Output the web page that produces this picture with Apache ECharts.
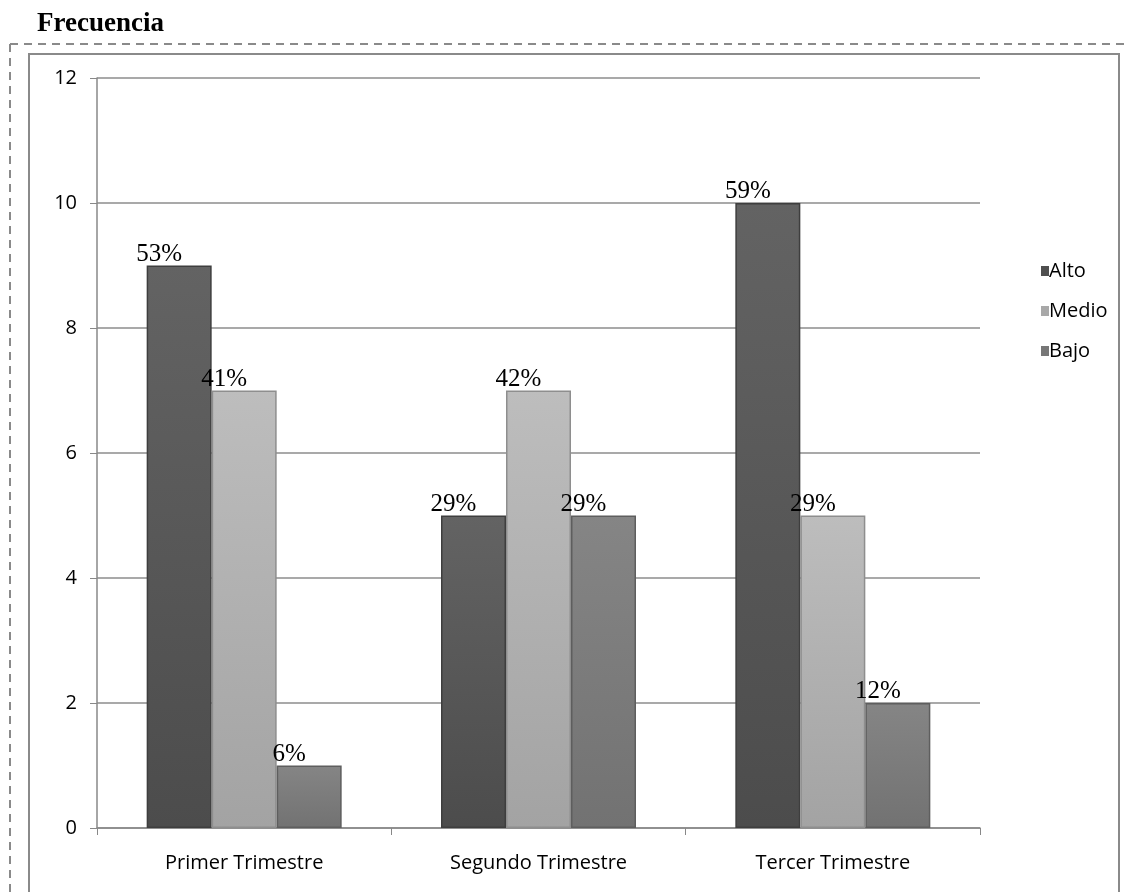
<!DOCTYPE html>
<html>
<head>
<meta charset="utf-8">
<script src="https://cdn.jsdelivr.net/npm/echarts@6/dist/echarts.min.js"></script>
<style>html,body{margin:0;padding:0;background:#fff;}#c{width:1125px;height:892px;}</style>
</head>
<body>
<div id="c"></div>
<script>
var categories = ['Primer Trimestre', 'Segundo Trimestre', 'Tercer Trimestre'];
var seriesNames = ['Alto', 'Medio', 'Bajo'];
var alto = [9, 5, 10];
var medio = [7, 7, 5];
var bajo = [1, 5, 2];
var altoPct = ['53%', '29%', '59%'];
var medioPct = ['41%', '42%', '29%'];
var bajoPct = ['6%', '29%', '12%'];
var yTicks = [0, 2, 4, 6, 8, 10, 12];

var chart = echarts.init(document.getElementById('c'));
function grad(top, bottom) {
  return new echarts.graphic.LinearGradient(0, 0, 0, 1, [
    {offset: 0, color: top}, {offset: 1, color: bottom}
  ]);
}
function mk(name, data, pcts, top, bottom, border) {
  return {
    name: name, type: 'bar', data: data, barWidth: 65, barGap: '0%',
    itemStyle: {color: grad(top, bottom), borderColor: border, borderWidth: 1.5},
    label: {
      show: true, position: 'top', distance: 0, offset: [-20, 1],
      formatter: function (p) { return pcts[p.dataIndex]; },
      fontFamily: 'Liberation Serif', fontSize: 25, color: '#000'
    }
  };
}
var sansFont = 'Open Sans';
chart.setOption({
  animation: false,
  title: {
    text: 'Frecuencia', left: 32, top: 6,
    textStyle: {fontFamily: 'Liberation Serif', fontWeight: 'bold', fontSize: 27, color: '#000'}
  },
  legend: {
    orient: 'vertical', left: 1036, top: 256, itemGap: 20,
    itemWidth: 8, itemHeight: 10,
    data: seriesNames.map(function (n, i) {
      var c = ['#4f4f4f', '#a8a8a8', '#777'][i];
      return {name: n, icon: 'rect', itemStyle: {color: c, borderWidth: 0}};
    }),
    textStyle: {fontFamily: sansFont, fontSize: 20, color: '#000', padding: [0, 0, 0, -5], lineHeight: 20}
  },
  grid: {left: 97, right: 145, top: 78, bottom: 64},
  xAxis: {
    type: 'category', data: categories,
    axisLine: {lineStyle: {color: '#888', width: 1.5}},
    axisTick: {show: true, length: 7, lineStyle: {color: '#888'}},
    axisLabel: {fontFamily: sansFont, fontSize: 20, color: '#000', margin: 25}
  },
  yAxis: {
    type: 'value', min: 0, max: 12, interval: 2,
    axisLine: {show: true, lineStyle: {color: '#888', width: 1.5}},
    axisTick: {show: true, length: 7, lineStyle: {color: '#888'}},
    axisLabel: {fontFamily: sansFont, fontSize: 20, color: '#000', margin: 20,
      formatter: function (v) { return yTicks.indexOf(v) >= 0 ? String(v) : ''; }},
    splitLine: {lineStyle: {color: '#8c8c8c', width: 1.5}}
  },
  graphic: [
    {type: 'rect', shape: {x: 29, y: 54, width: 1090, height: 860}, style: {fill: 'none', stroke: '#8a8a8a', lineWidth: 2}, silent: true},
    {type: 'line', shape: {x1: 10, y1: 44, x2: 1125, y2: 44}, style: {stroke: '#8a8a8a', lineWidth: 2, lineDash: [8, 6]}, silent: true},
    {type: 'line', shape: {x1: 10, y1: 44, x2: 10, y2: 892}, style: {stroke: '#8a8a8a', lineWidth: 2, lineDash: [8, 6]}, silent: true}
  ],
  series: [
    mk('Alto', alto, altoPct, '#636363', '#4c4c4c', '#3e3e3e'),
    mk('Medio', medio, medioPct, '#bdbdbd', '#a3a3a3', '#8e8e8e'),
    mk('Bajo', bajo, bajoPct, '#858585', '#727272', '#5e5e5e')
  ]
});
</script>
</body>
</html>
